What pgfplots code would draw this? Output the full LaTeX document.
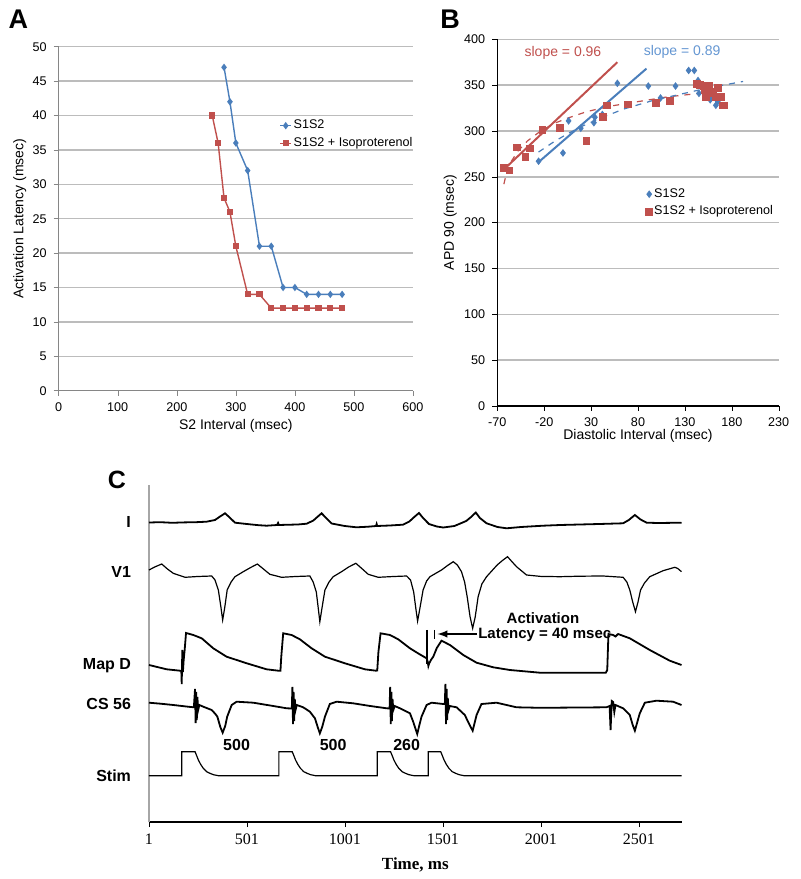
\documentclass[border=0pt]{standalone}
\usepackage{pgfplots}
\pgfplotsset{compat=1.18}
\usepackage{fontspec}
\setmainfont{Liberation Sans}
\newfontfamily\timesf{Liberation Serif}
\definecolor{xblue}{RGB}{74,126,187}
\definecolor{xred}{RGB}{192,80,77}
\definecolor{xlblue}{RGB}{100,150,210}
\definecolor{xgrid}{RGB}{188,188,188}
\definecolor{xaxis}{RGB}{134,134,134}
\begin{document}
\begin{tikzpicture}
\useasboundingbox (0,0) rectangle (400pt,439.5pt);
\pgfplotsset{
  excel/.style={
    scale only axis, anchor=south west,
    axis lines*=left, axis line style={-},
    ymajorgrids, major grid style={xgrid, line width=0.75pt},
    tick align=outside, major tick length=2.5pt,
    tick label style={font=\fontsize{6.3}{7}\selectfont},
    /pgf/number format/assume math mode=true,
    label style={font=\fontsize{7}{8}\selectfont},
    legend style={draw=none, fill=none, anchor=north west,
      font=\fontsize{6.3}{7}\selectfont, row sep=1.2pt, nodes={inner sep=0.8pt}},
    legend cell align=left,
  }
}
% ---------- panel A ----------
\begin{axis}[excel, at={(29.35pt,244.15pt)}, width=177.15pt, height=172pt,
  xmin=0, xmax=600, ymin=0, ymax=50,
  xtick={0,100,...,600}, ytick={0,5,...,50},
  axis line style={xaxis, line width=0.6pt}, tick style={xaxis},
  xlabel={S2 Interval (msec)}, ylabel={Activation Latency (msec)},
  xlabel style={at={(axis description cs:0.5,0)}, yshift=-17.5pt, anchor=center},
  ylabel style={at={(axis description cs:-0.110,0.5)}, anchor=center},
  legend style={at={(0.605,0.805)}},
  legend image code/.code={\draw[mark repeat=2,mark phase=2] plot coordinates {(0pt,0pt)(2.8pt,0pt)(5.6pt,0pt)};},
]
\addplot[xblue, line width=0.7pt, mark=diamond*, mark size=1.3pt] coordinates {
  (280,47) (290,42) (300,36) (320,32) (340,21) (360,21) (380,15) (400,15)
  (420,14) (440,14) (460,14) (480,14)};
\addlegendentry{S1S2}
\addplot[xred, line width=0.7pt, mark=square*, mark size=1.2pt] coordinates {
  (260,40) (270,36) (280,28) (290,26) (300,21) (320,14) (340,14) (360,12)
  (380,12) (400,12) (420,12) (440,12) (460,12) (480,12)};
\addlegendentry{S1S2 + Isoproterenol}
\end{axis}
% ---------- panel B ----------
\begin{axis}[excel, at={(248.65pt,236.5pt)}, width=140.7pt, height=183.35pt,
  xmin=-70, xmax=230, ymin=0, ymax=400,
  xtick={-70,-20,...,230}, ytick={0,50,...,400},
  axis line style={black, line width=0.6pt}, tick style={black},
  xlabel={Diastolic Interval (msec)}, ylabel={APD 90 (msec)},
  xlabel style={at={(axis description cs:0.5,0)}, yshift=-15pt, anchor=center},
  ylabel style={at={(axis description cs:-0.167,0.5)}, anchor=center},
  legend style={at={(0.505,0.61)}},
  legend image code/.code={\draw[mark repeat=2,mark phase=2] plot coordinates {(0pt,0pt)(2.6pt,0pt)(5.2pt,0pt)};},
]
\addplot[xblue, only marks, mark=diamond*, mark size=1.6pt] coordinates {
  (-26,267) (0,276) (6,311) (19,303) (33,309) (34,315) (42,318) (58,352)
  (91,349) (104,336) (120,349) (134,366) (140,366) (144,355) (145,352)
  (145,341) (150,345) (155,340) (157,334) (160,337) (163,328) (165,332)};
\addlegendentry{S1S2}
\addplot[xred, only marks, mark=square*, mark size=1.7pt] coordinates {
  (-63,260) (-57,257) (-49,282) (-40,272) (-35,281) (-22,301) (-3,303)
  (25,289) (43,315) (47,328) (69,329) (99,331) (114,333)
  (143,351) (146,350) (150,349) (156,349) (151,345) (157,343) (152,340)
  (152,337) (160,341) (163,337) (165,347) (168,337) (170,328) (172,328)};
\addlegendentry{S1S2 + Isoproterenol}
\addplot[forget plot, xred, dashed, line width=0.6pt] coordinates {
  (-63,242) (-60,255) (-55,267) (-48,278) (-38,289) (-25,299) (-10,308)
  (5,314) (25,321) (50,327) (80,332) (110,337) (145,341)};
\addplot[forget plot, xblue, dashed, line width=0.6pt] coordinates {
  (-26,277) (-10,288) (5,297) (20,305) (40,314) (65,324) (95,333)
  (125,340) (155,347) (192,354)};
\addplot[forget plot, xred, line width=1pt] coordinates {(-63,258) (58,375)};
\addplot[forget plot, xblue, line width=1pt] coordinates {(-26,266) (89,368)};
\node[text=xred, font=\fontsize{7}{8}\selectfont] at (axis cs:0,385) {slope = 0.96};
\node[text=xlblue, font=\fontsize{7}{8}\selectfont] at (axis cs:127,386) {slope = 0.89};
\end{axis}
% ---------- panel C ----------
\begin{axis}[scale only axis, anchor=south west, at={(74.5pt,28.5pt)},
  width=266.35pt, height=168.5pt,
  xmin=1, xmax=2720, ymin=0, ymax=337,
  axis lines*=left, axis line style={-},
  x axis line style={black, line width=0.6pt},
  y axis line style={gray!70, line width=0.6pt},
  ytick=\empty, xtick={1,501,1001,1501,2001,2501},
  xticklabels={1,501,1001,1501,2001,2501},
  tick align=outside, major tick length=2.5pt, tick style={black},
  xticklabel style={font=\timesf\fontsize{8}{9}\selectfont},
  xlabel={\timesf\bfseries Time, ms},
  xlabel style={font=\fontsize{8.5}{9}\selectfont, at={(axis description cs:0.5,0)}, yshift=-21.5pt, anchor=center},
  clip=false,
]
% I
\addplot[black, line width=0.9pt] coordinates {
  (1,299.5) (60,299.8) (120,299.2) (180,299.6) (240,299.8) (295,300.3) (338,302)
  (360,305) (389,308.7) (410,305) (440,299.3) (500,298) (560,296.8) (601,296.3)
  (655,297) (660,299) (664,297) (700,297.2) (760,297.5) (806,298.3) (840,301.5)
  (860,305) (882,308.7) (905,304) (933,298.5) (1000,296) (1060,294.7) (1120,295.3)
  (1160,296) (1163,298) (1166,296) (1230,296.5) (1297,297.3) (1330,300.5)
  (1355,305) (1379,309) (1400,304) (1430,298) (1470,295.5) (1503,294.5)
  (1560,296) (1620,301) (1645,305) (1669,309.5) (1690,304) (1724,298.7)
  (1780,295) (1826,293.7) (1900,295) (2013,296.3) (2100,297) (2200,297.5)
  (2300,298) (2421,298.7) (2450,302) (2481,307) (2510,302.5) (2541,299.3)
  (2600,299) (2719,299.3)};
% V1
\addplot[black, line width=0.6pt] coordinates {
  (1,252) (30,255) (66,258) (95,253) (125,248.7) (185,244.7) (250,245.5) (321,246)
  (338,242) (355,232) (368,215) (377,202) (388,215) (400,232) (420,240) (440,245.3)
  (482,250.3) (520,254.5) (554,258) (585,253) (618,247.7) (678,244.7) (750,245.5)
  (822,246) (839,240) (855,230) (866,212) (873,200.3) (884,214) (899,232) (920,240)
  (941,245.3) (984,250.3) (1020,255) (1057,258.7) (1090,253) (1120,247.7)
  (1171,244.7) (1250,245.5) (1316,246) (1336,242) (1352,230) (1364,212) (1372,201)
  (1384,214) (1400,232) (1418,241) (1435,245.3) (1494,252) (1525,256.5)
  (1554,260.3) (1575,257) (1596,250.3) (1612,240) (1625,225.3) (1640,205)
  (1653,193.7) (1666,205) (1681,225.3) (1700,238) (1724,245.3) (1778,257)
  (1805,261.5) (1831,265.3) (1855,260) (1877,255.3) (1928,247) (2000,245.6)
  (2098,245.3) (2200,245.8) (2319,246) (2421,244.7) (2440,240) (2455,232)
  (2470,220) (2484,210.3) (2497,220) (2510,232) (2530,239) (2557,245.3)
  (2625,251.3) (2685,254.7) (2700,253.5) (2719,250.3)};
% Map D
\addplot[black, line width=0.9pt] coordinates {
  (1,157) (91,152.7) (159,151.3) (166,151) (168,138) (171,172) (174,150) (178,162)
  (183,172) (190,189) (200,188.5) (227,187) (270,183.7) (329,173.7) (397,165.3)
  (500,158.7) (601,152.7) (661,151.3) (672,151.3) (676,165) (686,188.7) (729,187)
  (771,182.7) (831,173.7) (899,165.3) (1001,158.7) (1103,152.7) (1159,151.3)
  (1166,151.5) (1172,170) (1183,188.7) (1231,187) (1273,182.7) (1333,173.7)
  (1380,168) (1418,163.7) (1424,160) (1427,156) (1432,159) (1440,162) (1452,165.3)
  (1470,174) (1494,181.3) (1537,177) (1605,167) (1673,159.3) (1758,154.7)
  (1843,152) (1996,149.3) (2333,149.3) (2340,152) (2346,188) (2370,187)
  (2382,185.5) (2395,188) (2455,183.7) (2557,172) (2659,161.3) (2719,157)};
% CS 56
\addplot[black, line width=0.9pt] coordinates {
  (1,119.3) (60,118.3) (125,117) (200,115.3) (230,114.7) (236,133) (239,99) (242,130)
  (245,102) (248,125) (252,112) (258,117) (278,115.3) (321,112) (340,108)
  (350,105.3) (365,95) (377,89.3) (390,96) (400,105.3) (423,117) (448,120.3)
  (533,119.3) (620,116.5) (704,113.7) (730,113.5) (733,135) (736,98) (739,130)
  (742,101) (745,123) (749,112) (755,117) (788,114.7) (822,110.3) (848,103.7)
  (862,95) (873,88.7) (885,95) (899,105.3) (924,118) (959,120.3) (1043,118.7)
  (1130,116) (1214,113.7) (1229,113.5) (1232,135) (1235,98) (1238,130) (1241,101)
  (1244,123) (1248,112) (1255,116) (1282,113.7) (1333,108.7) (1350,100) (1370,88)
  (1380,96) (1392,105.3) (1418,117) (1443,119.3) (1503,118) (1511,118) (1514,138)
  (1517,98) (1520,133) (1523,102) (1526,124) (1530,112) (1536,116) (1571,114.7)
  (1613,107) (1635,98) (1653,91.3) (1673,107) (1698,118) (1775,119.3) (1877,114.7)
  (2000,114.2) (2336,114.7) (2352,116) (2357,92) (2363,121) (2370,120) (2376,110)
  (2382,117) (2421,113.7) (2455,107) (2470,97) (2481,91.3) (2506,108.7)
  (2532,119.3) (2591,121.3) (2676,120.3) (2719,117)};
% Stim
\addplot[black, line width=0.6pt] coordinates {
  (1,46.3) (168,46.3) (168,70.3) (236,70.3) (245,66) (253,62) (265,57.5) (278,53.7)
  (295,50.3) (312,48.7) (330,47.3) (355,46.3) (664,46.3) (664,70.3) (732,70.3)
  (741,66) (749,62) (761,57.5) (774,53.7) (791,50.3) (808,48.7) (826,47.3)
  (851,46.3) (1166,46.3) (1166,70.3) (1234,70.3) (1243,66) (1251,62) (1263,57.5)
  (1276,53.7) (1293,50.3) (1310,48.7) (1328,47.3) (1353,46.3) (1426,46.3)
  (1426,70.3) (1490,70.3) (1499,66) (1507,62) (1519,57.5) (1532,53.7) (1549,50.3)
  (1566,48.7) (1584,47.3) (1609,46.3) (2719,46.3)};
% annotations
\draw[black, line width=0.6pt] (axis cs:1420,192) -- (axis cs:1420,158);
\draw[black, line width=0.6pt] (axis cs:1459,192) -- (axis cs:1459,183);
\draw[black, line width=0.7pt, -latex] (axis cs:1673,188) -- (axis cs:1474,188);
\begin{scope}[font=\bfseries\fontsize{7.5}{8}\selectfont]
\node at (axis cs:2012,204) {Activation};
\node at (axis cs:2021,187) {Latency = 40 msec};
\end{scope}
\begin{scope}[font=\bfseries\fontsize{8}{9}\selectfont]
\node at (axis cs:448,77) {500};
\node at (axis cs:941,77) {500};
\node at (axis cs:1316,77) {260};
\node[anchor=east] at (axis cs:1,300) [xshift=-5.5pt] {I};
\node[anchor=east] at (axis cs:1,250) [xshift=-5.5pt] {V1};
\node[anchor=east] at (axis cs:1,156) [xshift=-5.5pt] {Map D};
\node[anchor=east] at (axis cs:1,118) [xshift=-5.5pt] {CS 56};
\node[anchor=east] at (axis cs:1,46) [xshift=-5.5pt] {Stim};
\end{scope}
\end{axis}
% panel letters
\node[font=\bfseries\fontsize{13.5}{14}\selectfont] at (9.2pt,429.8pt) {A};
\node[font=\bfseries\fontsize{13.5}{14}\selectfont] at (225pt,429.8pt) {B};
\node[font=\bfseries\fontsize{12.5}{13}\selectfont] at (58.5pt,199.5pt) {C};
\end{tikzpicture}
\end{document}
